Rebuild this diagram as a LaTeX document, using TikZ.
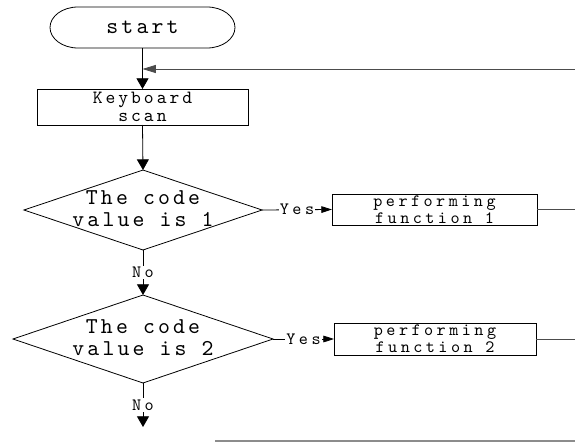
\documentclass[tikz,border=0pt]{standalone}
\usepackage{fontspec}
\usetikzlibrary{arrows.meta,shapes.geometric}
\newfontfamily\codefont{lmmono10-regular.otf}
\newcommand\cmono[3]{\fontsize{#1}{#2}\selectfont\codefont\addfontfeature{LetterSpace=#3}}
\begin{document}
\begin{tikzpicture}[x=0.75pt,y=-0.75pt, line width=0.6pt,
  big/.style={font={\cmono{17}{16.5}{14}}, align=center, inner sep=0pt},
  small/.style={font={\cmono{13}{13}{20}}, align=center, inner sep=0pt},
  box/.style={draw, rectangle, inner sep=0pt, outer sep=0pt},
  dia/.style={draw, diamond, inner sep=0pt, outer sep=0pt},
  arr/.style={-{Triangle[width=9pt,length=8pt]}},
  yarr/.style={-{Triangle[width=5pt,length=8pt]}},
  far/.style={-{Triangle[width=6pt,length=10pt]}},
  gline/.style={draw=black!70}]
\useasboundingbox (0,0) rectangle (575,443);
% start terminal
\node[minimum width=138.75pt, minimum height=30.75pt, inner sep=0pt, outer sep=0pt, font={\cmono{17}{15}{14}}] (st) at (142.5,27.5) {start};
\draw ([xshift=21pt]st.north west) -- ([xshift=-21pt]st.north east)
  arc[start angle=90,end angle=-90,x radius=21pt,y radius=15.375pt]
  -- ([xshift=21pt]st.south west)
  arc[start angle=270,end angle=90,x radius=21pt,y radius=15.375pt] -- cycle;
% keyboard scan
\node[box, minimum width=158.25pt, minimum height=27pt] (kb) at (142.5,107) {};
\node[small, font={\cmono{14}{13.5}{16}}] (kbt) at (kb) {Keyboard\\scan};
% diamonds
\node[dia, minimum width=178.5pt, minimum height=60pt] (d1) at (143,210) {};
\node[big] (d1t) at (143,209) {The code\\value is 1};
\node[dia, minimum width=195pt, minimum height=66pt] (d2) at (143,339) {};
\node[big] (d2t) at (143,338) {The code\\value is 2};
% function boxes
\node[box, minimum width=153.75pt, minimum height=23.25pt] (b1) at (434.5,209.5) {};
\node[small] (b1t) at (b1) {performing\\function 1};
\node[box, minimum width=151.5pt, minimum height=24pt] (b2) at (435,339) {};
\node[small] (b2t) at (b2) {performing\\function 2};
% coordinates
\coordinate (m) at (142.5,69);
\coordinate (fb) at (575,69);
\coordinate (r1) at (575,209.5);
\coordinate (r2) at (575,339);
\coordinate (end) at (143,427);
\coordinate (bl1) at (215,441);
\coordinate (bl2) at (575,441);
% connectors
\draw[arr] (st.south) -- (kb.north);
\draw[far, gline] (fb) -- (m);
\draw[arr] (kb.south) -- (d1.north);
\draw[yarr] (d1.east) -- node[small, fill=white, inner xsep=1pt, inner ysep=0pt] (y1) {Yes} (b1.west);
\draw[yarr] (d2.east) -- node[small, fill=white, inner xsep=1pt, inner ysep=0pt] (y2) {Yes} (b2.west);
\draw[arr] (d1.south) -- node[small, fill=white, inner ysep=1pt] (n1) {No} (d2.north);
\draw[arr] (d2.south) -- node[small, fill=white, inner ysep=1pt] (n2) {No} (end);
\draw[gline] (b1.east) -- (r1);
\draw[gline] (b2.east) -- (r2);
\draw[draw=black!45, line width=1.1pt] (bl1) -- (bl2);
\end{tikzpicture}
\end{document}
